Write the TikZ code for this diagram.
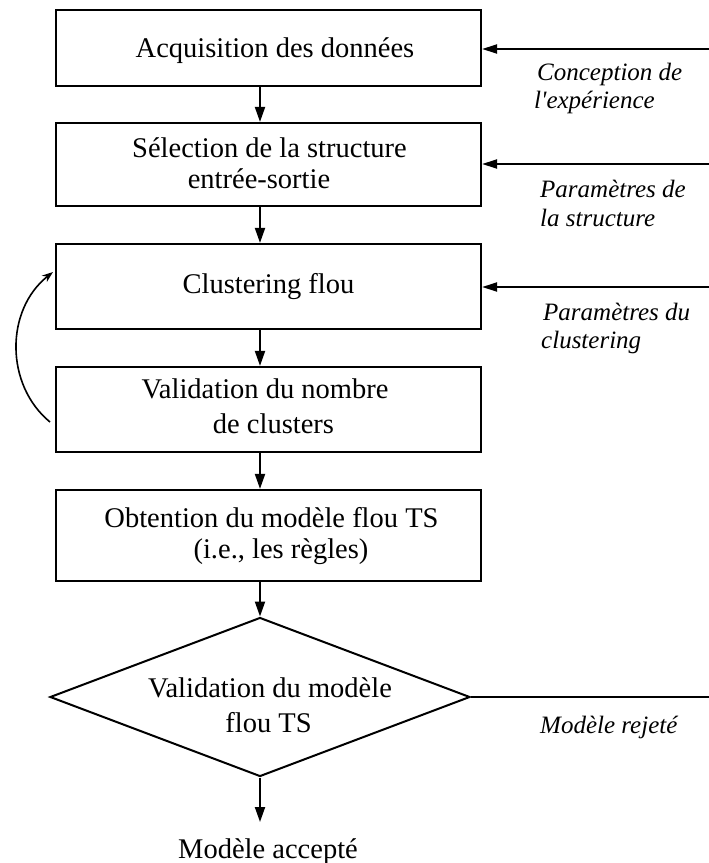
\documentclass[tikz,border=0pt]{standalone}
\usepackage{fontspec}
\setmainfont{Liberation Serif}
\usetikzlibrary{arrows.meta,shapes.geometric}
\begin{document}
\begin{tikzpicture}[x=1pt,y=-1pt,
  box/.style={draw, line width=2.2pt, minimum width=425pt, inner sep=0pt},
  txt/.style={font=\fontsize{28.5}{34}\selectfont, anchor=base, inner sep=0pt},
  lbl/.style={font=\fontsize{25}{28}\selectfont\itshape, anchor=base west, inner sep=0pt},
  arr/.style={line width=2pt, -{Triangle[length=15pt,width=10pt]}},
  harr/.style={line width=2pt, -{Triangle[length=15pt,width=9pt]}},
  plain/.style={line width=2pt},
]
\useasboundingbox (0,0) rectangle (709,863);
% boxes
\node[box, minimum height=76pt] (b1) at (268.5,48) {};
\node[box, minimum height=83pt] (b2) at (268.5,164.5) {};
\node[box, minimum height=85pt] (b3) at (268.5,286.5) {};
\node[box, minimum height=85pt] (b4) at (268.5,409.5) {};
\node[box, minimum height=91pt] (b5) at (268.5,535.5) {};
\node[diamond, draw, line width=2pt, minimum width=420pt, minimum height=159pt, inner sep=0pt] (d) at (260,697) {};
% texts
\node[txt] (t1) at (275,57) {Acquisition des données};
\node[txt] (t2a) at (269.5,157) {Sélection de la structure};
\node[txt] (t2b) at (259,188) {entrée-sortie};
\node[txt] (t3) at (268.5,293) {Clustering flou};
\node[txt] (t4a) at (265,398) {Validation du nombre};
\node[txt] (t4b) at (273.5,433) {de clusters};
\node[txt] (t5a) at (271.5,527) {Obtention du modèle flou TS};
\node[txt] (t5b) at (281,558) {(i.e., les règles)};
\node[txt] (t6a) at (270,697) {Validation du modèle};
\node[txt] (t6b) at (268.5,732) {flou TS};
\node[txt] (acc) at (268,858) {Modèle accepté};
% labels
\node[lbl] (l1a) at (537,80) {Conception de};
\node[lbl] (l1b) at (534,108) {l\textquotesingle expérience};
\node[lbl] (l2a) at (540,197) {Paramètres de};
\node[lbl] (l2b) at (540,226) {la structure};
\node[lbl] (l3a) at (543,320) {Paramètres du};
\node[lbl] (l3b) at (541,348) {clustering};
\node[lbl] (l4) at (540,733) {Modèle rejeté};
% vertical connectors
\coordinate (ax) at (260,0);
\coordinate (accTop) at (260,822);
\draw[arr] (b1.south -| ax) -- (b2.north -| ax);
\draw[arr] (b2.south -| ax) -- (b3.north -| ax);
\draw[arr] (b3.south -| ax) -- (b4.north -| ax);
\draw[arr] (b4.south -| ax) -- (b5.north -| ax);
\draw[arr] (b5.south -| ax) -- (d.north);
\draw[arr] (d.south) -- (accTop);
% right inputs
\coordinate (r1) at (709,49);
\coordinate (r2) at (709,164);
\coordinate (r3) at (709,287);
\coordinate (r4) at (709,697);
\draw[harr] (r1) -- (r1 -| b1.east);
\draw[harr] (r2) -- (r2 -| b2.east);
\draw[harr] (r3) -- (r3 -| b3.east);
\draw[plain] (d.east) -- (r4);
% feedback loop
\coordinate (cs) at (50,422);
\coordinate (ce) at (53,272);
\draw[line width=1.6pt, -{Stealth[length=11pt,width=8pt]}] (cs) .. controls (5,385) and (5,310) .. (ce);
\end{tikzpicture}
\end{document}
